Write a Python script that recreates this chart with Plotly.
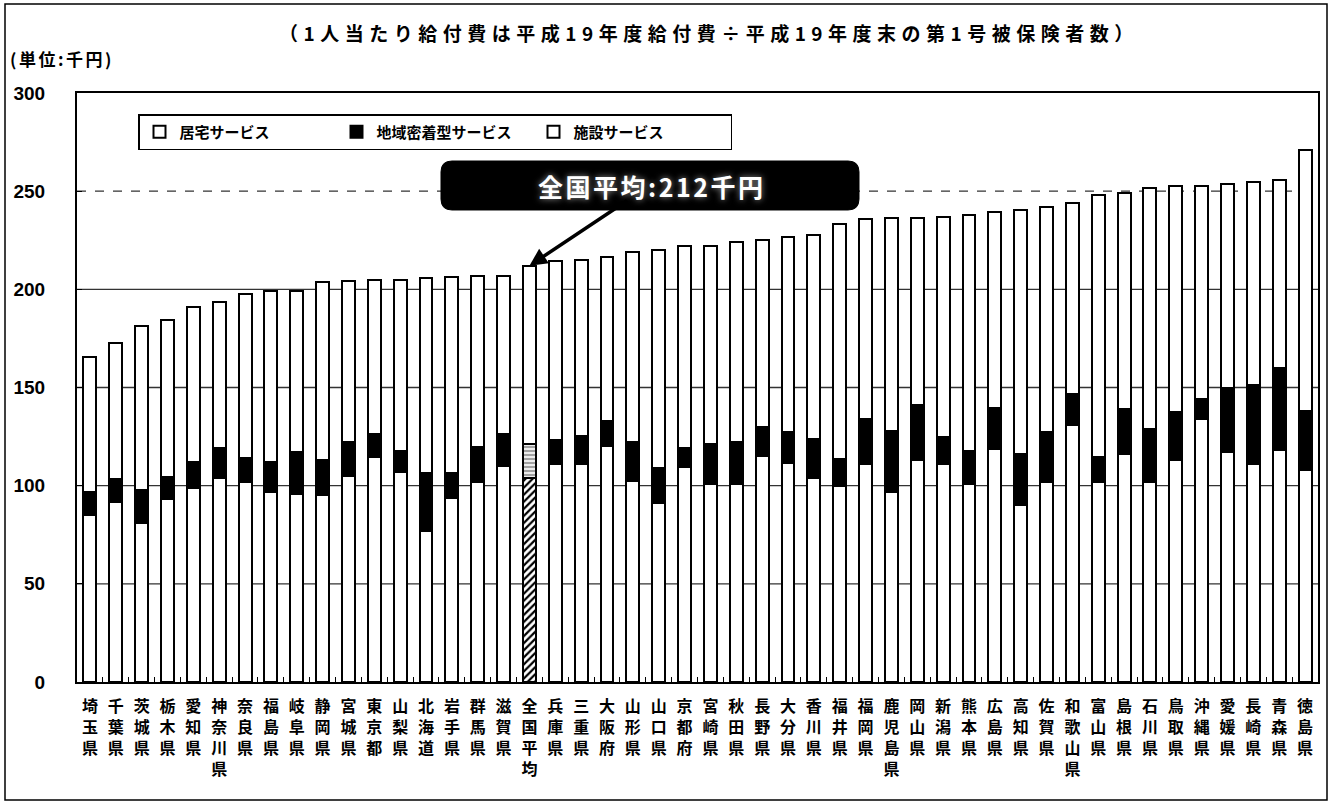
import plotly.graph_objects as go

# 都道府県別 第1号被保険者1人当たり給付費（千円）
prefectures = [
    "埼玉県", "千葉県", "茨城県", "栃木県", "愛知県", "神奈川県", "奈良県", "福島県",
    "岐阜県", "静岡県", "宮城県", "東京都", "山梨県", "北海道", "岩手県", "群馬県",
    "滋賀県", "全国平均", "兵庫県", "三重県", "大阪府", "山形県", "山口県", "京都府",
    "宮崎県", "秋田県", "長野県", "大分県", "香川県", "福井県", "福岡県", "鹿児島県",
    "岡山県", "新潟県", "熊本県", "広島県", "高知県", "佐賀県", "和歌山県", "富山県",
    "島根県", "石川県", "鳥取県", "沖縄県", "愛媛県", "長崎県", "青森県", "徳島県",
]
home_care = [
    85, 91.5, 81, 93, 99, 104, 102, 97,
    96, 95, 105, 114.5, 107, 77, 93.5, 102,
    110, 104, 111, 111, 120, 102.5, 91, 109.5,
    101, 101, 115, 111.5, 104, 100, 111, 97,
    113, 111, 101, 118.5, 90, 102, 131, 102,
    116, 102, 113, 134, 117, 111, 118, 108,
]
community = [
    12, 12, 17, 11.5, 13, 15, 12, 15,
    21, 18, 17, 12, 10.5, 29.5, 13, 17.5,
    16.5, 17, 12.5, 14.5, 13, 19.5, 18, 9.5,
    20, 21, 15, 16, 20, 13.5, 23, 31,
    28, 14, 16.5, 21, 26, 25.5, 15.5, 12.5,
    23, 27, 24.5, 10, 33, 40.5, 42, 30,
]
facility = [
    68.5, 69, 83.5, 80, 79, 74.5, 83.5, 87,
    82, 90.5, 82.5, 78.5, 87.5, 99.5, 100, 87.5,
    80.5, 91, 91, 89.5, 83.5, 97, 111, 103,
    101, 102, 95, 99, 103.5, 120, 102, 108.5,
    95.5, 112, 120.5, 100, 124.5, 114.5, 97.5, 133.5,
    110, 122.5, 115, 108.5, 103.5, 103, 95.5, 133,
]
series_names = ["居宅サービス", "地域密着型サービス", "施設サービス"]
national_label = "全国平均"
national_value = 212
y_ticks = [0, 50, 100, 150, 200, 250, 300]

W, H = 1333, 807
L, R, T, B = 77, 15, 93, 125
PW, PH = W - L - R, H - T - B


def px_x(p):
    return (p - L) / PW


def px_y(p):
    return (H - B - p) / PH


FONT_JP = "Noto Sans CJK JP"
FONT_NUM = "Liberation Sans"

labels = ["<br>".join(list(n)) for n in prefectures]
nat = prefectures.index(national_label)
n_cat = len(prefectures)

home_pattern = ["/" if i == nat else "" for i in range(n_cat)]
comm_pattern = ["-" if i == nat else "" for i in range(n_cat)]
comm_color = ["white" if i == nat else "black" for i in range(n_cat)]

fig = go.Figure()
fig.add_trace(go.Bar(
    x=labels, y=home_care, name=series_names[0],
    marker=dict(color="white", line=dict(color="black", width=2),
                pattern=dict(shape=home_pattern, fgcolor="black", bgcolor="white",
                             size=5, solidity=0.45, fillmode="replace")),
))
fig.add_trace(go.Bar(
    x=labels, y=community, name=series_names[1],
    marker=dict(color=comm_color, line=dict(color="black", width=2),
                pattern=dict(shape=comm_pattern, fgcolor="black",
                             size=4, solidity=0.6, fillmode="overlay")),
))
fig.add_trace(go.Bar(
    x=labels, y=facility, name=series_names[2],
    marker=dict(color="white", line=dict(color="black", width=2)),
))

shapes = []
# horizontal gridlines (250 drawn dashed)
for v in y_ticks[1:-1]:
    shapes.append(dict(
        type="line", xref="paper", yref="y", x0=0, x1=1, y0=v, y1=v,
        line=dict(color="#333333", width=1.3, dash="dash" if v == 250 else "solid"),
        layer="below",
    ))


def rounded_rect(x0, y0, x1, y1, r):
    # pixel box -> paper-space path with rounded corners
    X = lambda p: f"{px_x(p):.5f}"
    Y = lambda p: f"{px_y(p):.5f}"
    return (
        f"M{X(x0 + r)},{Y(y0)} L{X(x1 - r)},{Y(y0)} Q{X(x1)},{Y(y0)} {X(x1)},{Y(y0 + r)} "
        f"L{X(x1)},{Y(y1 - r)} Q{X(x1)},{Y(y1)} {X(x1 - r)},{Y(y1)} "
        f"L{X(x0 + r)},{Y(y1)} Q{X(x0)},{Y(y1)} {X(x0)},{Y(y1 - r)} "
        f"L{X(x0)},{Y(y0 + r)} Q{X(x0)},{Y(y0)} {X(x0 + r)},{Y(y0)} Z"
    )


# callout box for the national average
shapes.append(dict(
    type="path", xref="paper", yref="paper",
    path=rounded_rect(441, 161, 859, 210, 11),
    fillcolor="black", line=dict(color="black", width=1), layer="above",
))
# outer frame
shapes.append(dict(
    type="rect", xref="paper", yref="paper",
    x0=px_x(5), x1=px_x(1327), y0=px_y(800), y1=px_y(4),
    line=dict(color="black", width=1.5), fillcolor="rgba(0,0,0,0)", layer="below",
))

annotations = [
    dict(
        xref="paper", yref="paper", x=px_x(709), y=px_y(33),
        xanchor="center", yanchor="middle", showarrow=False,
        text='<span style="letter-spacing:5.5px">（1人当たり給付費は平成19年度給付費÷平成19年度末の第1号被保険者数）</span>',
        font=dict(family=FONT_JP, size=19, color="black", weight="bold"),
    ),
    dict(
        xref="paper", yref="paper", x=px_x(8), y=px_y(58),
        xanchor="left", yanchor="middle", showarrow=False,
        text='<span style="letter-spacing:2.5px">(単位:千円)</span>',
        font=dict(family=FONT_JP, size=17, color="black", weight="bold"),
    ),
    dict(
        xref="paper", yref="paper", x=px_x(651), y=px_y(186),
        xanchor="center", yanchor="middle", showarrow=False,
        text=f'<span style="letter-spacing:2.5px">{national_label}:{national_value}千円</span>',
        font=dict(family=FONT_JP, size=25, color="white", weight="bold",
                  shadow="0px 0px 6px #9a9a9a"),
    ),
    dict(
        xref="x", yref="y", x=labels[nat], y=national_value,
        ax=99, ay=-66, axref="pixel", ayref="pixel",
        text="", showarrow=True, arrowhead=2, arrowsize=1.0,
        arrowwidth=3.5, arrowcolor="black", standoff=0,
    ),
]

fig.update_layout(
    width=W, height=H,
    margin=dict(l=L, r=R, t=T, b=B),
    paper_bgcolor="white", plot_bgcolor="white",
    barmode="stack", bargap=0.5,
    shapes=shapes, annotations=annotations,
    legend=dict(
        orientation="h", x=px_x(138), y=px_y(114),
        xanchor="left", yanchor="top",
        bordercolor="black", borderwidth=1.5, bgcolor="white",
        font=dict(family=FONT_JP, size=15, color="black", weight="bold"),
        entrywidth=152, entrywidthmode="pixels",
        itemsizing="constant", traceorder="normal",
    ),
    xaxis=dict(
        type="category", showline=True, linecolor="black", linewidth=2, mirror=True,
        ticks="inside", ticklen=5, tickcolor="black", tickson="boundaries",
        tickfont=dict(family=FONT_JP, size=16, color="black", weight="bold"),
        tickangle=0, ticklabelstandoff=9,
        showgrid=False,
    ),
    yaxis=dict(
        range=[0, 300], tickvals=y_ticks, showline=True, linecolor="black",
        linewidth=2, mirror=True, ticks="inside", ticklen=5, tickcolor="black",
        tickfont=dict(family=FONT_NUM, size=19, color="black", weight="bold"),
        ticklabelstandoff=26, showgrid=False, zeroline=False,
    ),
)

fig.write_html("out.html")
